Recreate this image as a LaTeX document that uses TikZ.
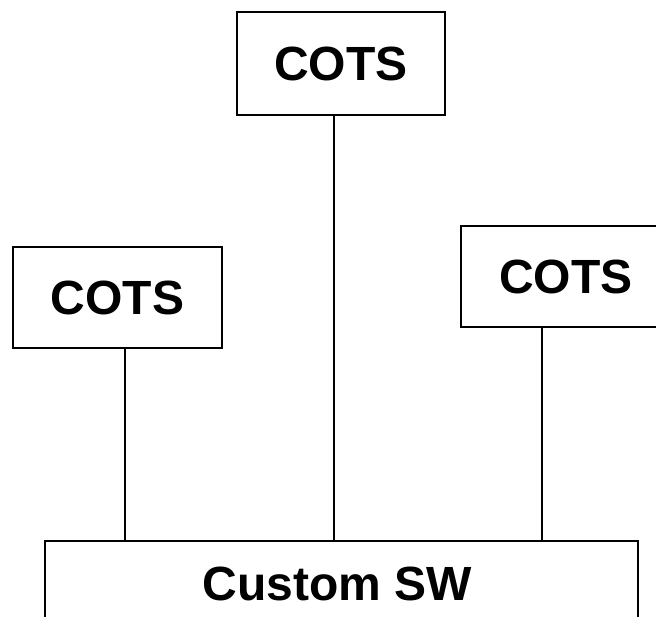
\documentclass[tikz,border=0pt]{standalone}
\usepackage{fontspec}
\setmainfont{Liberation Sans}
\begin{document}
\begin{tikzpicture}[x=1pt,y=-1pt,
  box/.style={draw=black,line width=2pt,fill=white,inner sep=0pt,
    font=\fontsize{48}{56}\selectfont\bfseries},
  link/.style={line width=2pt}]
\useasboundingbox (0,0) rectangle (656,616);
\node[box,minimum width=208pt,minimum height=103pt] (top) at (341,63.5) {COTS};
\node[box,minimum width=209pt,minimum height=101pt] (left) at (117.5,297.5) {COTS};
\node[box,minimum width=210pt,minimum height=101pt] (right) at (566,276.5) {COTS};
\node[box,minimum width=593pt,minimum height=100pt] (sw) at (341.5,591) {};
\node[font=\fontsize{48}{56}\selectfont\bfseries] (swt) at (337.5,584) {Custom SW};
\draw[link] ([xshift=7.5pt]left.south) coordinate (t1) -- (t1 |- sw.north);
\draw[link] ([xshift=-7pt]top.south) coordinate (t2) -- (t2 |- sw.north);
\draw[link] ([xshift=-24pt]right.south) coordinate (t3) -- (t3 |- sw.north);
\end{tikzpicture}
\end{document}
